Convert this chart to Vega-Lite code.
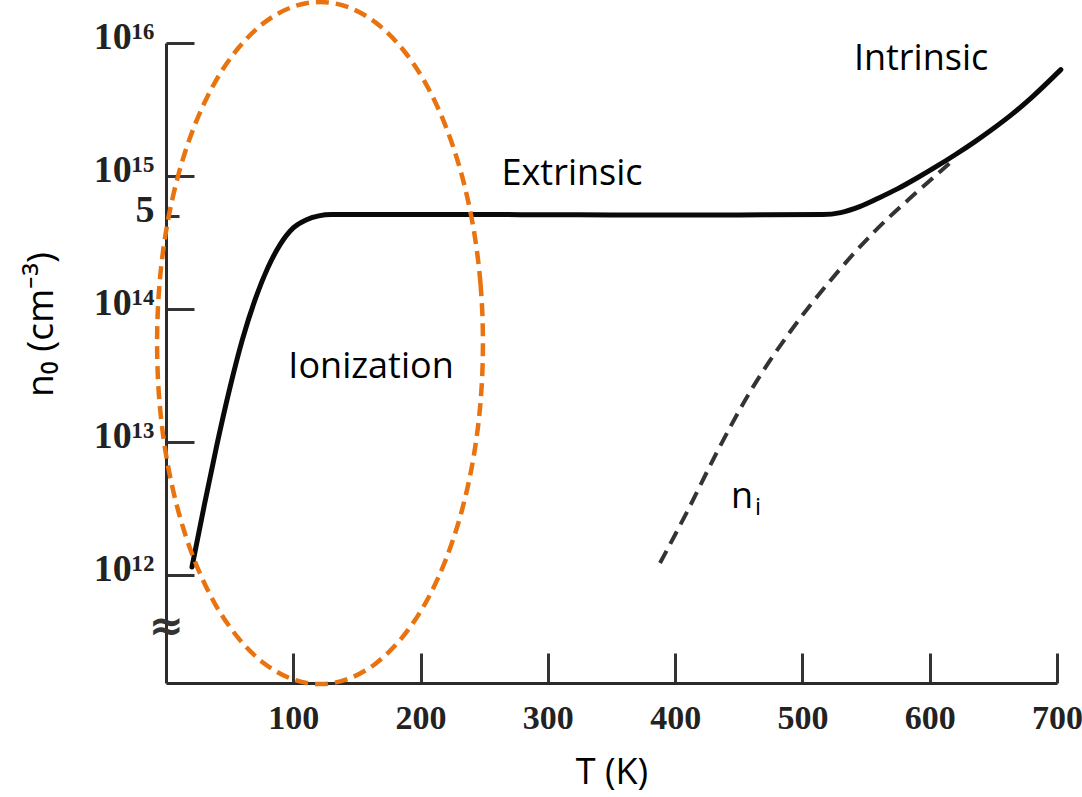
{
  "$schema": "https://vega.github.io/schema/vega-lite/v6.json",
  "width": 891,
  "height": 640,
  "autosize": {"type": "none"},
  "padding": {"left": 166, "top": 43, "right": 25, "bottom": 114},
  "background": "white",
  "config": {"view": {"stroke": null}},
  "datasets": {
    "n0": [
      {"T": 20.4, "n": 1.148e12},
      {"T": 30, "n": 3.311e12},
      {"T": 40, "n": 9.55e12},
      {"T": 50, "n": 2.512e13},
      {"T": 60, "n": 5.888e13},
      {"T": 70, "n": 1.175e14},
      {"T": 80, "n": 2.042e14},
      {"T": 90, "n": 3.09e14},
      {"T": 100, "n": 4.074e14},
      {"T": 110, "n": 4.677e14},
      {"T": 120, "n": 5.012e14},
      {"T": 130, "n": 5.129e14},
      {"T": 250, "n": 5.129e14},
      {"T": 350, "n": 5.1e14},
      {"T": 450, "n": 5.1e14},
      {"T": 516, "n": 5.129e14},
      {"T": 530, "n": 5.309e14},
      {"T": 545, "n": 5.888e14},
      {"T": 560, "n": 6.839e14},
      {"T": 575, "n": 8.035e14},
      {"T": 590, "n": 9.66e14},
      {"T": 605, "n": 1.175e15},
      {"T": 620, "n": 1.445e15},
      {"T": 635, "n": 1.799e15},
      {"T": 650, "n": 2.275e15},
      {"T": 665, "n": 2.931e15},
      {"T": 680, "n": 3.89e15},
      {"T": 703, "n": 6.31e15}
    ],
    "ni": [
      {"T": 388.1, "n": 1.23e12},
      {"T": 410.1, "n": 3.083e12},
      {"T": 432.9, "n": 8.414e12},
      {"T": 458.8, "n": 2.377e13},
      {"T": 490.2, "n": 6.714e13},
      {"T": 521.7, "n": 1.626e14},
      {"T": 555.4, "n": 3.724e14},
      {"T": 590.0, "n": 7.586e14},
      {"T": 615.9, "n": 1.253e15}
    ],
    "ellipse": [
      {"i": 0, "T": 249, "n": 5.546e13},
      {"i": 1, "T": 247.1, "n": 1.545e14},
      {"i": 2, "T": 241.3, "n": 4.178e14},
      {"i": 3, "T": 231.8, "n": 1.062e15},
      {"i": 4, "T": 219.0, "n": 2.466e15},
      {"i": 5, "T": 203.3, "n": 5.105e15},
      {"i": 6, "T": 185.0, "n": 9.204e15},
      {"i": 7, "T": 164.8, "n": 1.422e16},
      {"i": 8, "T": 143.2, "n": 1.858e16},
      {"i": 9, "T": 121, "n": 2.032e16},
      {"i": 10, "T": 98.8, "n": 1.858e16},
      {"i": 11, "T": 77.2, "n": 1.422e16},
      {"i": 12, "T": 57.0, "n": 9.204e15},
      {"i": 13, "T": 38.7, "n": 5.105e15},
      {"i": 14, "T": 23.0, "n": 2.466e15},
      {"i": 15, "T": 10.2, "n": 1.062e15},
      {"i": 16, "T": 0.7, "n": 4.178e14},
      {"i": 17, "T": -5.1, "n": 1.545e14},
      {"i": 18, "T": -7.0, "n": 5.546e13},
      {"i": 19, "T": -5.1, "n": 1.991e13},
      {"i": 20, "T": 0.7, "n": 7.362e12},
      {"i": 21, "T": 10.2, "n": 2.897e12},
      {"i": 22, "T": 23.0, "n": 1.247e12},
      {"i": 23, "T": 38.7, "n": 6.026e11},
      {"i": 24, "T": 57.0, "n": 3.342e11},
      {"i": 25, "T": 77.2, "n": 2.163e11},
      {"i": 26, "T": 98.8, "n": 1.656e11},
      {"i": 27, "T": 121, "n": 1.514e11},
      {"i": 28, "T": 143.2, "n": 1.656e11},
      {"i": 29, "T": 164.8, "n": 2.163e11},
      {"i": 30, "T": 185.0, "n": 3.342e11},
      {"i": 31, "T": 203.3, "n": 6.026e11},
      {"i": 32, "T": 219.0, "n": 1.247e12},
      {"i": 33, "T": 231.8, "n": 2.897e12},
      {"i": 34, "T": 241.3, "n": 7.362e12},
      {"i": 35, "T": 247.1, "n": 1.991e13}
    ],
    "labels": [
      {"T": 593.2, "n": 6.27e15, "label": "Intrinsic"},
      {"T": 319.0, "n": 8.55e14, "label": "Extrinsic"},
      {"T": 161.1, "n": 3.03e13, "label": "Ionization"}
    ],
    "nlabel": [
      {"T": 452.5, "n": 3.19e12, "label": "n", "sub": "i"}
    ],
    "axisbreak": [
      {"T": 0, "n": 4.06e11, "label": "≈"}
    ]
  },
  "encoding": {
    "x": {
      "field": "T",
      "type": "quantitative",
      "scale": {"domain": [0, 700], "nice": false, "zero": false},
      "axis": {
        "values": [100, 200, 300, 400, 500, 600, 700],
        "title": "T (K)",
        "titleFont": "Open Sans",
        "titleFontSize": 36,
        "titleFontWeight": "normal",
        "titleColor": "#000000",
        "titleBaseline": "alphabetic",
        "titleY": 100,
        "grid": false,
        "domainColor": "#2b2b2b",
        "domainWidth": 3,
        "tickColor": "#333333",
        "tickWidth": 3,
        "tickSize": -30,
        "labelPadding": 75,
        "labelBaseline": "alphabetic",
        "labelFont": "Liberation Serif",
        "labelFontWeight": "bold",
        "labelFontSize": 34,
        "labelColor": "#222222",
        "labelFlush": false,
        "labelOverlap": false
      }
    },
    "y": {
      "field": "n",
      "type": "quantitative",
      "scale": {"type": "log", "domain": [1.542e11, 1e16], "nice": false, "zero": false},
      "axis": {
        "values": [1e12, 1e13, 1e14, 5e14, 1e15, 1e16],
        "labelExpr": "datum.value >= 9e15 ? '10¹⁶' : datum.value >= 9e14 ? '10¹⁵' : datum.value >= 4e14 ? '5' : datum.value >= 9e13 ? '10¹⁴' : datum.value >= 9e12 ? '10¹³' : '10¹²'",
        "title": "n₀ (cm⁻³)",
        "titleFont": "Open Sans",
        "titleFontSize": 37,
        "titleFontWeight": "normal",
        "titleColor": "#000000",
        "titleX": -106,
        "titleY": 281,
        "grid": false,
        "domainColor": "#2b2b2b",
        "domainWidth": 3,
        "tickColor": "#333333",
        "tickWidth": 3,
        "tickSize": {"condition": {"test": "datum.value == 5e14", "value": -13}, "value": -28},
        "labelPadding": {"condition": {"test": "datum.value == 5e14", "value": 25}, "value": 40},
        "labelBaseline": "alphabetic",
        "labelOffset": 5,
        "labelFont": "Liberation Serif",
        "labelFontWeight": "bold",
        "labelFontSize": 38,
        "labelColor": "#222222",
        "labelFlush": false,
        "labelOverlap": false
      }
    }
  },
  "layer": [
    {
      "data": {"name": "n0"},
      "mark": {"type": "line", "color": "#0a0a0a", "strokeWidth": 5, "interpolate": "monotone", "strokeCap": "round"}
    },
    {
      "data": {"name": "ni"},
      "mark": {"type": "line", "color": "#333333", "strokeWidth": 4, "strokeDash": [14, 8], "interpolate": "monotone"}
    },
    {
      "data": {"name": "labels"},
      "mark": {"type": "text", "font": "Open Sans", "fontSize": 36, "color": "#000000", "align": "center", "baseline": "alphabetic"},
      "encoding": {"text": {"field": "label"}}
    },
    {
      "data": {"name": "nlabel"},
      "mark": {"type": "text", "font": "Open Sans", "fontSize": 36, "color": "#000000", "align": "center", "baseline": "alphabetic"},
      "encoding": {"text": {"field": "label"}}
    },
    {
      "data": {"name": "nlabel"},
      "mark": {"type": "text", "font": "Open Sans", "fontSize": 24, "color": "#000000", "align": "center", "baseline": "alphabetic", "dx": 16, "dy": 7},
      "encoding": {"text": {"field": "sub"}}
    },
    {
      "data": {"name": "axisbreak"},
      "mark": {"type": "text", "font": "DejaVu Sans", "fontSize": 42, "fontWeight": "bold", "color": "#333333", "align": "center", "baseline": "middle"},
      "encoding": {"text": {"field": "label"}}
    },
    {
      "data": {"name": "ellipse"},
      "mark": {"type": "line", "color": "#E8730F", "strokeWidth": 4.5, "strokeDash": [13, 7], "interpolate": "cardinal-closed"},
      "encoding": {"order": {"field": "i"}}
    }
  ]
}
